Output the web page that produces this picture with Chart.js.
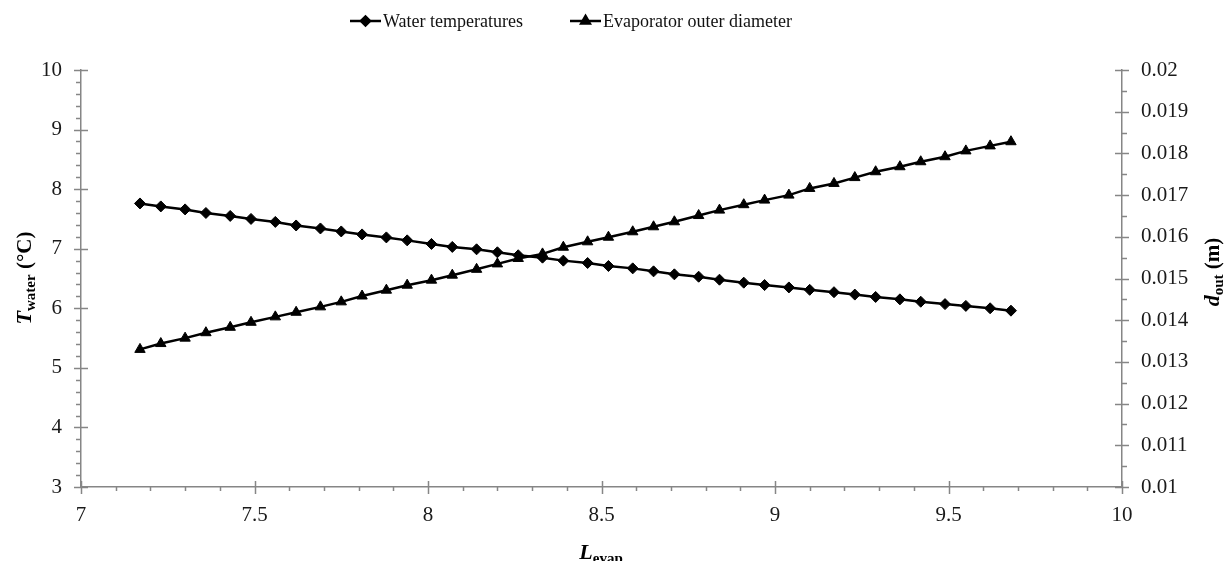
<!DOCTYPE html>
<html>
<head>
<meta charset="utf-8">
<script src="https://cdn.jsdelivr.net/npm/chart.js@4.4.1/dist/chart.umd.min.js"></script>
<style>
    html, body { margin: 0; padding: 0; background: #fff; }
</style>
</head>
<body>
<canvas id="chart" width="1231" height="561"></canvas>
<script>
// evaporator length
const lengths = [7.17, 7.23, 7.30, 7.36, 7.43, 7.49, 7.56, 7.62, 7.69, 7.75,
    7.81, 7.88, 7.94, 8.01, 8.07, 8.14, 8.20, 8.26, 8.33, 8.39,
    8.46, 8.52, 8.59, 8.65, 8.71, 8.78, 8.84, 8.91, 8.97, 9.04,
    9.10, 9.17, 9.23, 9.29, 9.36, 9.42, 9.49, 9.55, 9.62, 9.68];

// water temperature (left axis)
const waterTemp = [7.76, 7.71, 7.66, 7.60, 7.55, 7.50, 7.45, 7.39, 7.34, 7.29,
    7.24, 7.19, 7.14, 7.08, 7.03, 6.99, 6.94, 6.89, 6.85, 6.80,
    6.76, 6.71, 6.67, 6.62, 6.57, 6.53, 6.48, 6.43, 6.39, 6.35,
    6.31, 6.27, 6.23, 6.19, 6.15, 6.11, 6.07, 6.04, 6.00, 5.96];

// evaporator outer diameter (right axis)
const outerDiam = [0.01330, 0.01344, 0.01357, 0.01370, 0.01383, 0.01395, 0.01408, 0.01419, 0.01432, 0.01444,
    0.01458, 0.01472, 0.01484, 0.01496, 0.01508, 0.01522, 0.01535, 0.01548, 0.01559, 0.01575,
    0.01588, 0.01599, 0.01612, 0.01624, 0.01636, 0.01651, 0.01664, 0.01677, 0.01688, 0.01700,
    0.01716, 0.01728, 0.01742, 0.01756, 0.01768, 0.01780, 0.01792, 0.01806, 0.01818, 0.01828];

const seriesNames = ['Water temperatures', 'Evaporator outer diameter'];

const xRange = [7, 10, 0.5];
const yRange = [3, 10, 1];
const y2Range = [0.01, 0.02, 0.001];

const axisColor = '#868686';
const serif = '"Liberation Serif", "Times New Roman", serif';

function toPoints(xs, ys) {
    return xs.map((v, i) => ({ x: v, y: ys[i] }));
}

// minor/major tick marks, legend, axis titles with subscripts
const decorations = {
    id: 'decorations',
    afterDraw(chart) {
        const ctx = chart.ctx;
        const area = chart.chartArea;
        const sx = chart.scales.x, sy = chart.scales.y, sy2 = chart.scales.y2;

        ctx.save();
        ctx.strokeStyle = axisColor;
        ctx.lineWidth = 1.5;
        ctx.beginPath();

        // x axis: minor every 0.1, major every 0.5 (crossing)
        for (let i = 0; i <= 30; i++) {
            const px = Math.round(sx.getPixelForValue(xRange[0] + i * 0.1)) + 0.5;
            if (i % 5 === 0) {
                ctx.moveTo(px, area.bottom - 6);
                ctx.lineTo(px, area.bottom + 7);
            } else {
                ctx.moveTo(px, area.bottom);
                ctx.lineTo(px, area.bottom + 4);
            }
        }
        // left axis: minor every 0.2
        for (let i = 0; i <= 35; i++) {
            const py = Math.round(sy.getPixelForValue(yRange[0] + i * 0.2)) + 0.5;
            if (i % 5 === 0) {
                ctx.moveTo(area.left - 7, py);
                ctx.lineTo(area.left + 7, py);
            } else {
                ctx.moveTo(area.left - 5, py);
                ctx.lineTo(area.left, py);
            }
        }
        // right axis: minor every 0.0005
        for (let i = 0; i <= 20; i++) {
            const py = Math.round(sy2.getPixelForValue(y2Range[0] + i * 0.0005)) + 0.5;
            if (i % 2 === 0) {
                ctx.moveTo(area.right - 7, py);
                ctx.lineTo(area.right + 7, py);
            } else {
                ctx.moveTo(area.right, py);
                ctx.lineTo(area.right + 5, py);
            }
        }
        ctx.stroke();
        ctx.restore();

        // legend
        ctx.save();
        ctx.font = '18px ' + serif;
        ctx.textBaseline = 'middle';
        const legendX = [350, 570];
        chart.data.datasets.forEach((ds, i) => {
            const x0 = legendX[i], ly = 21;
            ctx.strokeStyle = '#000';
            ctx.lineWidth = 2.5;
            ctx.beginPath();
            ctx.moveTo(x0, ly);
            ctx.lineTo(x0 + 31, ly);
            ctx.stroke();
            ctx.fillStyle = '#000';
            Chart.helpers.drawPoint(ctx, {
                pointStyle: ds.pointStyle,
                radius: ds.pointRadius - 1,
                rotation: 0,
                borderWidth: 1
            }, x0 + 15.5, ly);
            ctx.fillStyle = '#111';
            ctx.fillText(ds.label, x0 + 33, ly + 1);
        });
        ctx.restore();

        // axis title helper: parts = [[text, font, isSub], ...]
        function richText(parts, cx, cy, rotate) {
            ctx.save();
            ctx.translate(cx, cy);
            if (rotate) ctx.rotate(-Math.PI / 2);
            ctx.fillStyle = '#000';
            ctx.textBaseline = 'alphabetic';
            let total = 0;
            parts.forEach(p => { ctx.font = p[1]; total += ctx.measureText(p[0]).width; });
            let pos = -total / 2;
            parts.forEach(p => {
                ctx.font = p[1];
                ctx.fillText(p[0], pos, p[2] ? 11 : 7);
                pos += ctx.measureText(p[0]).width;
            });
            ctx.restore();
        }

        richText([
            ['T', 'italic bold 22px ' + serif, false],
            ['water', 'bold 15px ' + serif, true],
            [' (°C)', 'bold 21px ' + serif, false]
        ], 24, 278, true);

        richText([
            ['d', 'italic bold 22px ' + serif, false],
            ['out', 'bold 15px ' + serif, true],
            [' (m)', 'bold 21px ' + serif, false]
        ], 1212, 272, true);

        richText([
            ['L', 'italic bold 22px ' + serif, false],
            ['evap', 'bold 15px ' + serif, true]
        ], 601, 552, false);
    }
};

const ctx = document.getElementById('chart');

new Chart(ctx, {
    type: 'line',
    data: {
        datasets: [{
            label: seriesNames[0],
            data: toPoints(lengths, waterTemp),
            yAxisID: 'y',
            borderColor: '#000',
            backgroundColor: '#000',
            borderWidth: 2.5,
            pointStyle: 'rectRot',
            pointRadius: 5.5,
            pointBorderWidth: 1,
            tension: 0
        }, {
            label: seriesNames[1],
            data: toPoints(lengths, outerDiam),
            yAxisID: 'y2',
            borderColor: '#000',
            backgroundColor: '#000',
            borderWidth: 2.5,
            pointStyle: 'triangle',
            pointRadius: 6,
            pointBorderWidth: 1,
            tension: 0
        }]
    },
    options: {
        responsive: false,
        animation: false,
        layout: { padding: { top: 70, left: 0, right: 0, bottom: 0 } },
        plugins: {
            legend: { display: false },
            tooltip: { enabled: false }
        },
        scales: {
            x: {
                type: 'linear',
                min: xRange[0], max: xRange[1],
                grid: { display: false, drawTicks: false },
                border: { display: true, color: axisColor, width: 1.5 },
                ticks: {
                    stepSize: xRange[2],
                    padding: 16,
                    color: '#1a1a1a',
                    font: { family: serif, size: 21 },
                    maxRotation: 0,
                    callback: v => String(+v.toFixed(1))
                },
                afterFit: s => { s.height = 74; }
            },
            y: {
                position: 'left',
                min: yRange[0], max: yRange[1],
                grid: { display: false, drawTicks: false },
                border: { display: true, color: axisColor, width: 1.5 },
                ticks: {
                    stepSize: yRange[2],
                    padding: 19,
                    color: '#1a1a1a',
                    font: { family: serif, size: 21 },
                    callback: v => String(+v.toFixed(0))
                },
                afterFit: s => { s.width = 81; }
            },
            y2: {
                position: 'right',
                min: y2Range[0], max: y2Range[1],
                grid: { display: false, drawTicks: false },
                border: { display: true, color: axisColor, width: 1.5 },
                ticks: {
                    stepSize: y2Range[2],
                    padding: 19,
                    color: '#1a1a1a',
                    font: { family: serif, size: 21 },
                    callback: v => String(+v.toFixed(3))
                },
                afterFit: s => { s.width = 109; }
            }
        }
    },
    plugins: [decorations]
});
</script>
</body>
</html>
